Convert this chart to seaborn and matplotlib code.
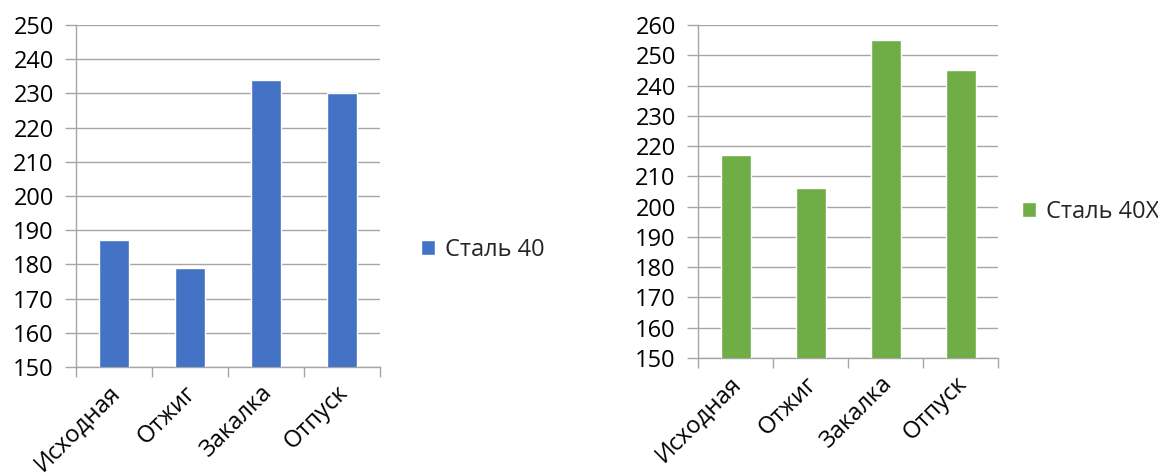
import matplotlib
matplotlib.use("Agg")
import matplotlib.pyplot as plt
import matplotlib.transforms as mtransforms
import seaborn as sns
import pandas as pd
import numpy as np

stages = ["Исходная", "Отжиг", "Закалка", "Отпуск"]
steel40 = [187, 179, 234, 230]
steel40x = [217, 206, 255, 245]
label40 = "Сталь 40"
label40x = "Сталь 40Х"

sns.set_theme(style="white")
plt.rcParams["font.family"] = ["Open Sans", "DejaVu Sans"]

GRID = "#a6a6a6"
FS = 17

fig = plt.figure(figsize=(11.58, 4.76), dpi=100)
W, H = 1158, 476


def axes_px(x0, y0, x1, y1):
    return fig.add_axes([x0 / W, 1 - y1 / H, (x1 - x0) / W, (y1 - y0) / H])


def draw(ax, values, color, label, ylo, yhi, legend_xy):
    df = pd.DataFrame({"stage": stages, "value": values})
    sns.barplot(data=df, x="stage", y="value", color=color, width=0.4,
                saturation=1, ax=ax, label=label, zorder=3)
    if ax.get_legend() is not None:
        ax.get_legend().remove()
    ax.set_ylim(ylo, yhi)
    ax.set_xlim(-0.5, len(stages) - 0.5)
    ax.set_yticks(np.arange(ylo, yhi + 1, 10))
    ax.set_xlabel("")
    ax.set_ylabel("")
    ax.yaxis.grid(True, color=GRID, linewidth=1, zorder=0)
    ax.set_axisbelow(True)
    for s in ("top", "right"):
        ax.spines[s].set_visible(False)
    for s in ("left", "bottom"):
        ax.spines[s].set_color(GRID)
        ax.spines[s].set_linewidth(1)
    ax.tick_params(axis="y", length=8, color=GRID, width=1, pad=8,
                   labelsize=FS, labelcolor="black", left=True)
    ax.set_xticks(np.arange(-0.5, len(stages)), minor=True)
    ax.tick_params(axis="x", which="minor", length=7, color=GRID, width=1,
                   bottom=True, direction="out")
    ax.tick_params(axis="x", which="major", length=0, pad=10,
                   labelsize=FS, labelcolor="black")
    shift = mtransforms.ScaledTranslation(-6 / 100, 0, fig.dpi_scale_trans)
    for t in ax.get_xticklabels():
        t.set_rotation(45)
        t.set_ha("right")
        t.set_va("top")
        t.set_rotation_mode("anchor")
        t.set_transform(t.get_transform() + shift)
    handles, labels = ax.get_legend_handles_labels()
    fig.legend(handles, labels, loc="center left",
               bbox_to_anchor=(legend_xy[0] / W, 1 - legend_xy[1] / H),
               frameon=False, fontsize=FS, handlelength=0.6,
               handleheight=0.6, handletextpad=0.4, borderaxespad=0,
               borderpad=0)


ax1 = axes_px(76, 25, 380, 367)
draw(ax1, steel40, "#4472c4", label40, 150, 250, (421, 250))

ax2 = axes_px(698, 25, 998, 358)
draw(ax2, steel40x, "#70ad47", label40x, 150, 260, (1022, 212))

fig.savefig("out.png", dpi=100)
